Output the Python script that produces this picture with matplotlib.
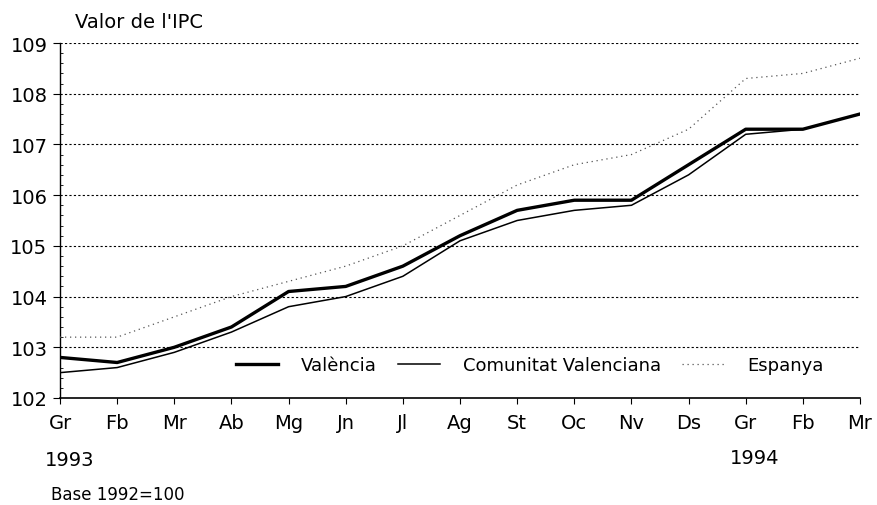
import matplotlib
matplotlib.use("Agg")
import matplotlib.pyplot as plt
import numpy as np

plt.rcParams["font.family"] = ["DejaVu Sans"]

# monthly CPI, base 1992=100, Jan 1993 - Mar 1994
months = ["Gr", "Fb", "Mr", "Ab", "Mg", "Jn", "Jl", "Ag", "St", "Oc", "Nv", "Ds", "Gr", "Fb", "Mr"]
valencia = [102.8, 102.7, 103.0, 103.4, 104.1, 104.2, 104.6, 105.2, 105.7, 105.9, 105.9, 106.6, 107.3, 107.3, 107.6]
comunitat = [102.5, 102.6, 102.9, 103.3, 103.8, 104.0, 104.4, 105.1, 105.5, 105.7, 105.8, 106.4, 107.2, 107.3, 107.6]
espanya = [103.2, 103.2, 103.6, 104.0, 104.3, 104.6, 105.0, 105.6, 106.2, 106.6, 106.8, 107.3, 108.3, 108.4, 108.7]
y_ticks = [102, 103, 104, 105, 106, 107, 108, 109]

W, H = 877, 506
fig = plt.figure(figsize=(W / 100, H / 100), dpi=100)
ax = fig.add_axes([60 / W, 1 - 399 / H, 800 / W, 355 / H])

x = np.arange(len(months))
ax.plot(x, espanya, color="#555555", lw=0.9, ls=(0, (1, 3)), label="Espanya", zorder=3)
ax.plot(x, comunitat, color="black", lw=1.1, label="Comunitat Valenciana", zorder=4)
ax.plot(x, valencia, color="black", lw=2.4, label="València", zorder=5)

ax.set_xlim(0, len(months) - 1)
ax.set_ylim(102, 109)
ax.set_yticks(y_ticks)
ax.set_yticks(np.arange(102, 109.01, 0.2), minor=True)
ax.set_xticks(x)
ax.set_xticklabels(months)
ax.tick_params(axis="both", labelsize=14, width=0.8)
ax.tick_params(axis="y", which="major", length=5, pad=4)
ax.tick_params(axis="y", which="minor", direction="in", length=2, width=0.6)
ax.tick_params(axis="x", length=4, pad=7)

for v in y_ticks[1:]:
    ax.axhline(v, color="black", lw=0.8, ls=(0, (2, 2)), zorder=1)

for side in ["top", "right"]:
    ax.spines[side].set_visible(False)
ax.spines["left"].set_linewidth(1.0)
ax.spines["bottom"].set_linewidth(1.2)

h, l = ax.get_legend_handles_labels()
order = [2, 1, 0]
leg = ax.legend([h[i] for i in order], [l[i] for i in order], ncol=3,
                loc="center left", bbox_to_anchor=(0.213, 0.093),
                fontsize=13, handlelength=2.33, handletextpad=1.25,
                columnspacing=1.2, frameon=True, fancybox=False,
                borderpad=0.3, borderaxespad=0)
leg.get_frame().set_edgecolor("none")
leg.get_frame().set_facecolor("white")
leg.get_frame().set_alpha(1)

fig.text(75 / W, 1 - 22 / H, "Valor de l'IPC", fontsize=14, ha="left", va="center")
fig.text(70 / W, 1 - 461 / H, "1993", fontsize=14, ha="center", va="center")
fig.text(755 / W, 1 - 459 / H, "1994", fontsize=14, ha="center", va="center")
fig.text(51 / W, 1 - 495 / H, "Base 1992=100", fontsize=12, ha="left", va="center")

fig.savefig("out.png", dpi=100)
